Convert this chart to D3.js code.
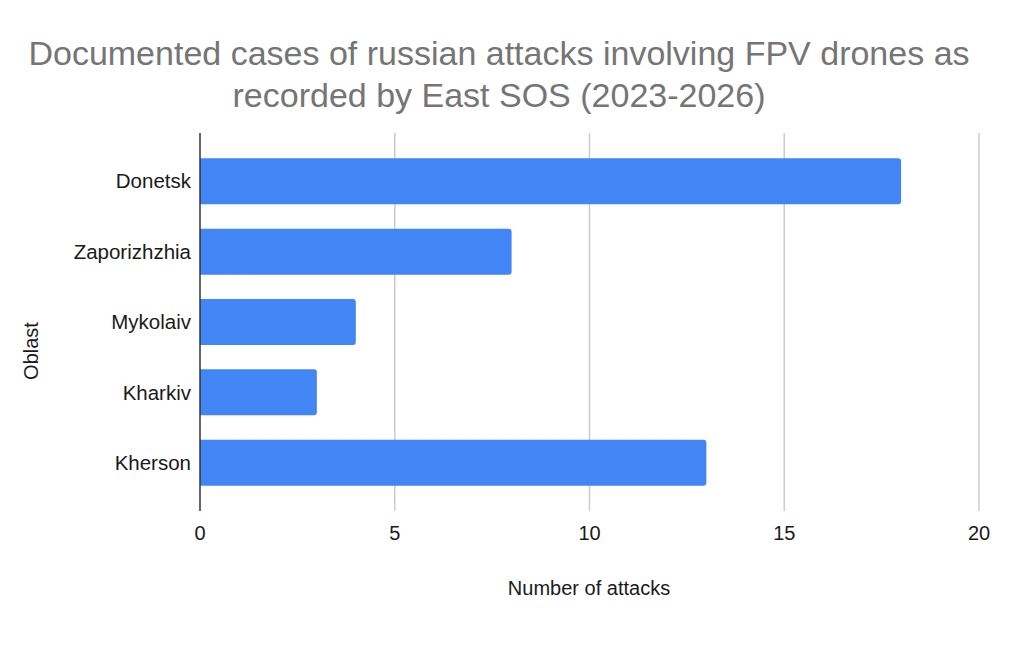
<!DOCTYPE html>
<html><head><meta charset="utf-8">
<script src="https://cdn.jsdelivr.net/npm/d3@7"></script>
<style>body{margin:0;background:#fff;} svg{display:block;font-family:"Liberation Sans",Arial,sans-serif;}</style>
</head><body>
<svg id="c" width="1024" height="666"></svg>
<script>
const categories = ["Donetsk","Zaporizhzhia","Mykolaiv","Kharkiv","Kherson"];
const values = [18, 8, 4, 3, 13];
const xTicks = [0, 5, 10, 15, 20];
const titleLines = ["Documented cases of russian attacks involving FPV drones as","recorded by East SOS (2023-2026)"];

const svg = d3.select("#c");
svg.append("rect").attr("width",1024).attr("height",666).attr("fill","#fff");
const x = d3.scaleLinear().domain([0,20]).range([200,979]);
const y = d3.scaleBand().domain(categories).range([133,511]).paddingInner(0.346).paddingOuter(0.36);

// gridlines
svg.append("g").selectAll("line").data(xTicks.filter(d=>d>0)).join("line")
  .attr("x1",d=>x(d)).attr("x2",d=>x(d)).attr("y1",133).attr("y2",511)
  .attr("stroke","#cccccc").attr("stroke-width",1.5);

// bars with rounded right corners
const r = 3;
svg.append("g").selectAll("path").data(categories.map((c,i)=>({c,v:values[i]}))).join("path")
  .attr("fill","#4285f4")
  .attr("d",d=>{
    const x0=x(0), x1=x(d.v), y0=y(d.c), h=y.bandwidth();
    return `M${x0},${y0}H${x1-r}Q${x1},${y0} ${x1},${y0+r}V${y0+h-r}Q${x1},${y0+h} ${x1-r},${y0+h}H${x0}Z`;
  });

// zero axis line
svg.append("line").attr("x1",x(0)).attr("x2",x(0)).attr("y1",133).attr("y2",511)
  .attr("stroke","#333").attr("stroke-width",1.5);

// category labels
svg.append("g").selectAll("text").data(categories).join("text")
  .attr("x",191).attr("y",d=>y(d)+y.bandwidth()/2).attr("dy","0.35em")
  .attr("text-anchor","end").attr("font-size",20.5).attr("fill","#1a1a1a").text(d=>d);

// x tick labels
svg.append("g").selectAll("text").data(xTicks).join("text")
  .attr("x",d=>x(d)).attr("y",533).attr("dy","0.35em")
  .attr("text-anchor","middle").attr("font-size",20).attr("fill","#1a1a1a").text(d=>d);

// axis titles
svg.append("text").attr("x",589).attr("y",588).attr("dy","0.35em").attr("text-anchor","middle")
  .attr("font-size",20).attr("fill","#1a1a1a").text("Number of attacks");
svg.append("text").attr("transform","translate(31,351) rotate(-90)").attr("dy","0.35em").attr("text-anchor","middle")
  .attr("font-size",20).attr("fill","#1a1a1a").text("Oblast");

// title
svg.append("g").selectAll("text").data(titleLines).join("text")
  .attr("x",499).attr("y",(d,i)=>65+i*42).attr("text-anchor","middle")
  .attr("font-size",34).attr("fill","#757575").text(d=>d);
</script>
</body></html>
